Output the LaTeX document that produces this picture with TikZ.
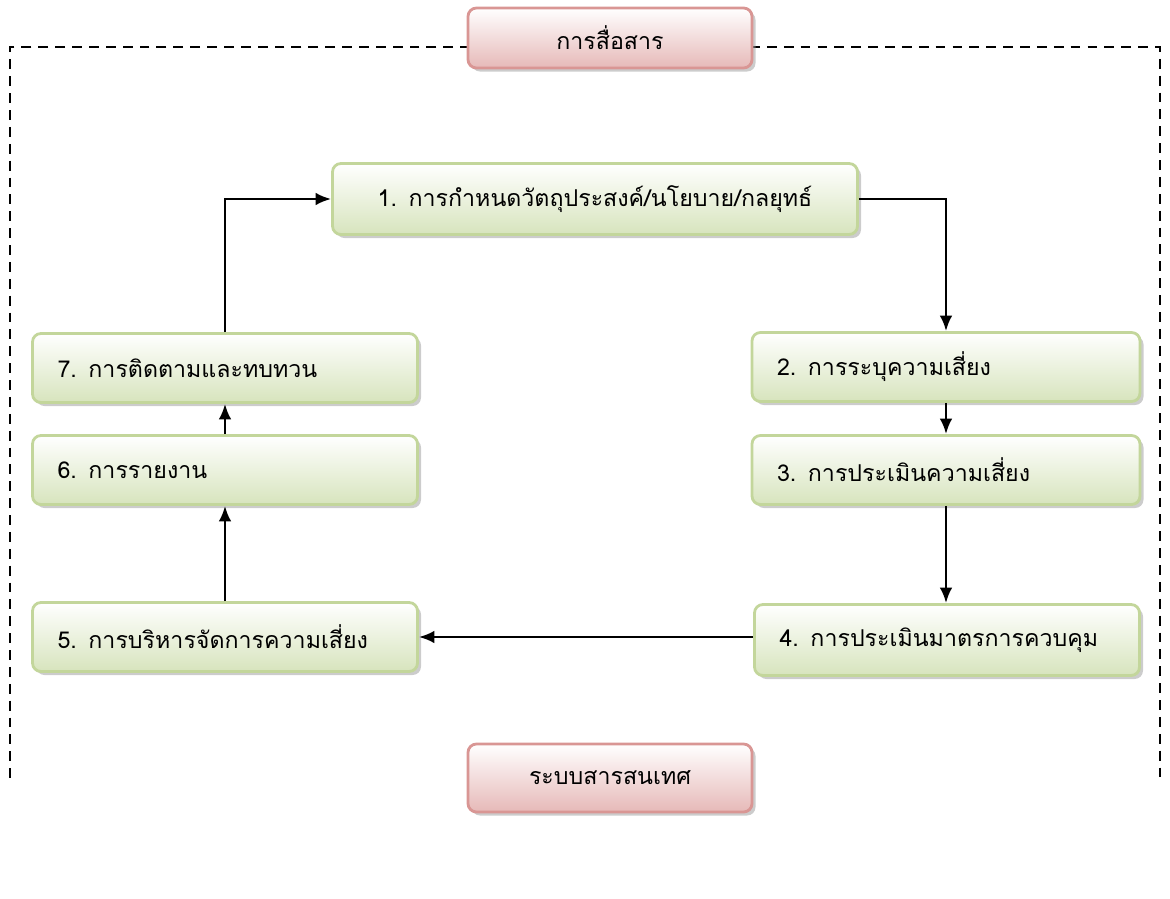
\documentclass[tikz,border=0pt]{standalone}
\usepackage{fontspec}
\newfontfamily\thaifont[Script=Thai]{Loma}
\usetikzlibrary{positioning,shapes,arrows.meta,calc,shadows}

\definecolor{stepline}{HTML}{C3D69B}
\definecolor{stepfill}{HTML}{D7E4BD}
\definecolor{tagline}{HTML}{D99694}
\definecolor{tagfill}{HTML}{E6B9B8}

\begin{document}
\begin{tikzpicture}[x=0.025cm,y=-0.025cm]
\tikzset{
    stepbox/.style={rectangle, draw=stepline, line width=2pt, top color=white, bottom color=stepfill, rounded corners=6pt, minimum height=69*0.025cm, text width=335*0.025cm, inner xsep=25*0.025cm, align=left, font=\thaifont\fontsize{16.5}{19}\selectfont, drop shadow={shadow xshift=2.5pt, shadow yshift=-2.5pt, fill=black!40}},
    tagbox/.style={rectangle, draw=tagline, line width=2pt, top color=white, bottom color=tagfill, rounded corners=6pt, minimum width=284*0.025cm, minimum height=60*0.025cm, align=center, font=\thaifont\fontsize{16.5}{19}\selectfont, drop shadow={shadow xshift=2.5pt, shadow yshift=-2.5pt, fill=black!40}},
    flow/.style={line width=1.8pt, -{Latex[length=11pt,width=9pt]}}
}
\useasboundingbox (0,0) rectangle (1170,899);

% dashed frame
\draw[line width=1.8pt, dash pattern=on 7pt off 5pt] (470,47) -- (10,47) -- (10,780);
\draw[line width=1.8pt, dash pattern=on 7pt off 5pt] (750,47) -- (1160,47) -- (1160,780);

\node[tagbox] (comm) at (610,38) {การสื่อสาร};
\node[tagbox, minimum height=68*0.025cm] (info) at (610,778) {ระบบสารสนเทศ};

\node[stepbox, text width=475*0.025cm, minimum height=71*0.025cm, align=center] (goal) at (595,199) {1. การกำหนดวัตถุประสงค์/นโยบาย/กลยุทธ์};
\node[stepbox, text width=338*0.025cm] (ident) at (946,367) {2. การระบุความเสี่ยง};
\node[stepbox, text width=338*0.025cm] (assess) at (946,470) {3. การประเมินความเสี่ยง};
\node[stepbox, minimum height=71*0.025cm] (control) at (947,640) {4. การประเมินมาตรการควบคุม};
\node[stepbox] (manage) at (225,637) {5. การบริหารจัดการความเสี่ยง};
\node[stepbox] (report) at (225,470) {6. การรายงาน};
\node[stepbox] (monitor) at (225,368) {7. การติดตามและทบทวน};

\draw[flow] (goal.east) -| (ident.north);
\draw[flow] (ident) -- (assess);
\draw[flow] (assess) -- (assess |- control.north);
\draw[flow] (control.west |- manage) -- (manage.east);
\draw[flow] (manage) -- (report);
\draw[flow] (report) -- (monitor);
\draw[flow] (monitor.north) |- (goal.west);
\end{tikzpicture}
\end{document}
